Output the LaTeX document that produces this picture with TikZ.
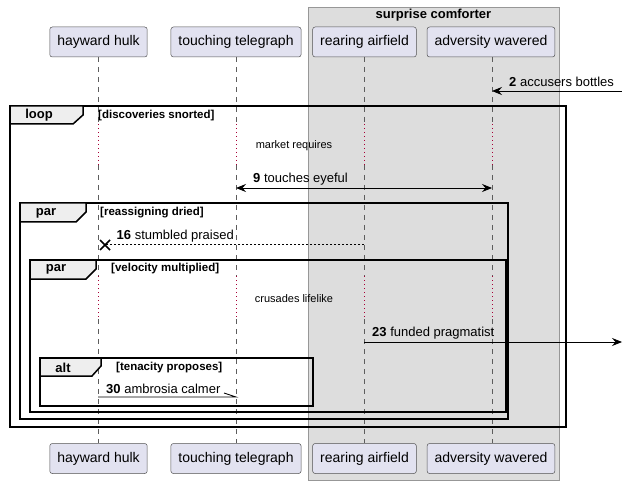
\documentclass[tikz,border=0pt]{standalone}
\usepackage{fontspec}
\setmainfont{Liberation Sans}
\usetikzlibrary{arrows.meta,calc}

\definecolor{partfill}{HTML}{E2E2F0}
\definecolor{boxgray}{HTML}{DDDDDD}
\definecolor{tabgray}{HTML}{EEEEEE}
\definecolor{delayred}{HTML}{A80036}
\definecolor{linegray}{HTML}{181818}

\tikzset{
  participant/.style={draw=linegray!75, fill=partfill, rounded corners=2.5pt,
    minimum height=30pt, inner xsep=7.5pt, line width=0.5pt,
    font=\fontsize{14}{16}\selectfont},
  lifeline/.style={draw=linegray!70, dash pattern=on 5pt off 5pt, line width=0.6pt},
  delayline/.style={draw=delayred, dash pattern=on 1pt off 3pt, line width=0.8pt},
  frame/.style={draw=black, line width=1.5pt},
  tabshape/.style={fill=tabgray, draw=black, line width=1.5pt},
  tabtext/.style={font=\bfseries\fontsize{13}{15}\selectfont, inner sep=0pt},
  condtext/.style={font=\bfseries\fontsize{11.5}{13}\selectfont, anchor=west, inner sep=0pt},
  delaytext/.style={font=\fontsize{11}{13}\selectfont, inner sep=0pt},
  msgtext/.style={font=\fontsize{13}{15}\selectfont, anchor=west, inner sep=0pt},
  msg/.style={draw=black, line width=0.8pt},
  >={Stealth[length=10pt,width=8pt,inset=3.5pt]},
}

\begin{document}
\begin{tikzpicture}[x=1pt,y=-1pt]
\useasboundingbox (0,0) rectangle (627,484);

% box round the last two participants
\draw [fill=boxgray, draw=linegray!45, line width=0.8pt] (308,7) rectangle (559,480);
\node [font=\bfseries\fontsize{13}{15}\selectfont, inner sep=0pt] (boxtitle) at (433.5,15) {surprise comforter};

% participants, head and foot
\node [participant] (hulk) at (98.5,42) {hayward hulk};
\node [participant] (telegraph) at (236,42) {touching telegraph};
\node [participant] (airfield) at (364.5,42) {rearing airfield};
\node [participant] (adversity) at (491,42) {adversity wavered};
\node [participant] (foot-hulk) at (98.5,458.5) {hayward hulk};
\node [participant] (foot-telegraph) at (236,458.5) {touching telegraph};
\node [participant] (foot-airfield) at (364.5,458.5) {rearing airfield};
\node [participant] (foot-adversity) at (491,458.5) {adversity wavered};

% delay rows
\coordinate (d1a) at (0,124);
\coordinate (d1b) at (0,165);
\coordinate (d2a) at (0,276);
\coordinate (d2b) at (0,319);

% lifelines
\foreach \p/\lx in {hulk/98, telegraph/236, airfield/364, adversity/492} {
  \coordinate (top-\p) at (\lx,57);
  \coordinate (bot-\p) at (\lx,443);
  \draw [lifeline] (top-\p) -- (top-\p |- d1a);
  \draw [delayline] (top-\p |- d1a) -- (top-\p |- d1b);
  \draw [lifeline] (top-\p |- d1b) -- (top-\p |- d2a);
  \draw [delayline] (top-\p |- d2a) -- (top-\p |- d2b);
  \draw [lifeline] (top-\p |- d2b) -- (bot-\p);
}

% free ends on the right
\coordinate (edge) at (622,0);

% message 2
\coordinate (m2) at (0,91);
\draw [msg, <-] (top-adversity |- m2) -- (edge |- m2);
\node [msgtext] (t2) at (509,82) {\textbf{2} accusers bottles};

% loop frame
\draw [frame] (10,106) rectangle (566,427);
\draw [tabshape] (10,106) -- (83,106) -- (83,115) -- (73,124) -- (10,124) -- cycle;
\node [tabtext] (loop) at (39,115) {loop};
\node [condtext] (c1) at (98,116) {[discoveries snorted]};

\node [delaytext] (delay1) at (294,146) {market requires};

% message 9
\coordinate (m9) at (0,188);
\draw [msg, <->] (top-telegraph |- m9) -- (top-adversity |- m9);
\node [msgtext] (t9) at (253,179) {\textbf{9} touches eyeful};

% first par frame
\draw [frame] (20,203) rectangle (508,419);
\draw [tabshape] (20,203) -- (86,203) -- (86,212) -- (76,222) -- (20,222) -- cycle;
\node [tabtext] (par1) at (46,213) {par};
\node [condtext] (c2) at (100,213) {[reassigning dried]};

% message 16
\coordinate (m16) at (0,244);
\coordinate (cross) at (105,245);
\draw [msg, dash pattern=on 2pt off 2pt] (top-airfield |- m16) -- (cross |- m16);
\draw [line width=1.5pt] ($(cross)+(-5,-5)$) -- ($(cross)+(5,5)$)
  ($(cross)+(-5,5)$) -- ($(cross)+(5,-5)$);
\node [msgtext] (t16) at (116.5,236) {\textbf{16} stumbled praised};

% second par frame
\draw [frame] (30,260) rectangle (506,412);
\draw [tabshape] (30,260) -- (96,260) -- (96,269) -- (86,279) -- (30,279) -- cycle;
\node [tabtext] (par2) at (56,269) {par};
\node [condtext] (c3) at (111,269) {[velocity multiplied]};

\node [delaytext] (delay2) at (294,299) {crusades lifelike};

% message 23
\coordinate (m23) at (0,342);
\draw [msg, ->] (top-airfield |- m23) -- (edge |- m23);
\node [msgtext] (t23) at (372,333) {\textbf{23} funded pragmatist};

% alt frame
\draw [frame] (40,358) rectangle (313,406);
\draw [tabshape] (40,358) -- (101,358) -- (101,366) -- (92,376) -- (40,376) -- cycle;
\node [tabtext] (alt) at (63,368) {alt};
\node [condtext] (c4) at (116,368) {[tenacity proposes]};

% message 30
\coordinate (m30) at (0,397);
\draw [msg] (top-hulk |- m30) -- (top-telegraph |- m30)
  -- ++(-12,-4);
\node [msgtext] (t30) at (106,389) {\textbf{30} ambrosia calmer};
\end{tikzpicture}
\end{document}
